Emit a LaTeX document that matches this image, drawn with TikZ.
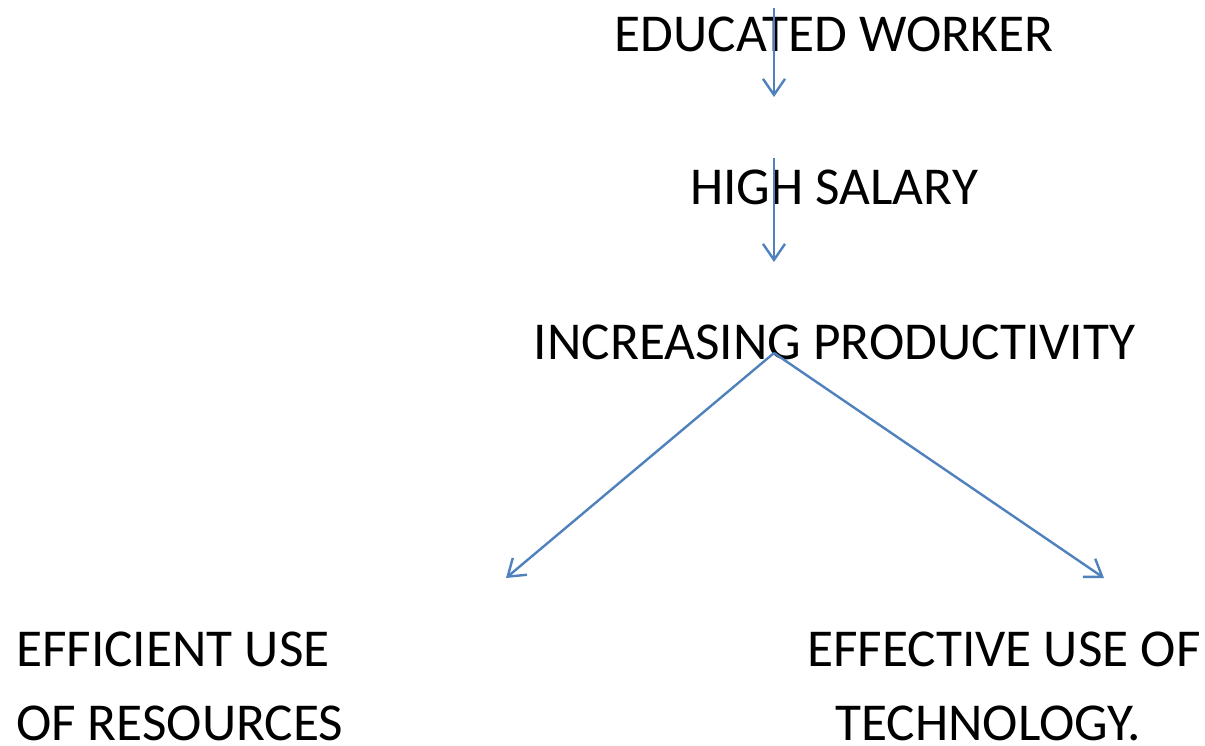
\documentclass[tikz,border=0pt]{standalone}
\usepackage{fontspec}
\setmainfont{Carlito}
\usetikzlibrary{arrows.meta}
\definecolor{arrowblue}{HTML}{4F81BD}
\begin{document}
\begin{tikzpicture}[x=1pt,y=-1pt,
  lbl/.style={inner sep=0pt,font=\fontsize{53.3}{64}\selectfont,text=black},
  conn/.style={draw=arrowblue,line width=2.4pt,-{Straight Barb[length=16pt,width=22pt,line width=2.4pt]}}]
\useasboundingbox (0,0) rectangle (1205,746);
\node[lbl,anchor=base] (edu) at (834,52) {EDUCATED WORKER};
\node[lbl,anchor=base] (sal) at (834,205) {HIGH SALARY};
\node[lbl,anchor=base] (inc) at (834.5,359) {INCREASING PRODUCTIVITY};
\node[lbl,anchor=base west] (eff1) at (16,666) {EFFICIENT USE};
\node[lbl,anchor=base west] (eff2) at (16,740) {OF RESOURCES};
\node[lbl,anchor=base] (tec1) at (1004,666) {EFFECTIVE USE OF};
\node[lbl,anchor=base] (tec2) at (988,740) {TECHNOLOGY.};
\coordinate (a1s) at (774,8);
\coordinate (a1e) at (774,97);
\coordinate (a2s) at (774,158);
\coordinate (a2e) at (774,262);
\coordinate (split) at (774,353);
\coordinate (leftend) at (506,578);
\coordinate (rightend) at (1104,578);
\draw[conn] (a1s) -- (a1e);
\draw[conn] (a2s) -- (a2e);
\draw[conn] (split) -- (leftend);
\draw[conn] (split) -- (rightend);
\end{tikzpicture}
\end{document}
